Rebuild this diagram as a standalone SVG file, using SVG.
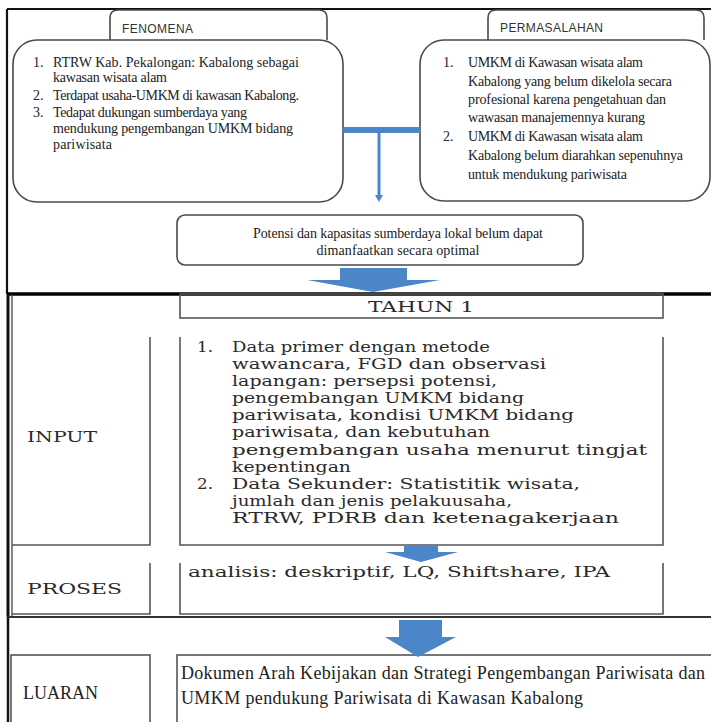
<svg xmlns="http://www.w3.org/2000/svg" width="711" height="722" viewBox="0 0 711 722">
<style>
.frame{fill:none;stroke:#111;stroke-width:2.2}
.box{fill:#fff;stroke:#4a4a4a;stroke-width:1.6}
.cell{fill:none;stroke:#555;stroke-width:1.6}
.tab{font-family:"Liberation Sans",Arial,sans-serif;font-size:12px;fill:#333}
.t1{font-family:"Liberation Serif","Times New Roman",serif;font-size:14px;fill:#222}
.t2{font-family:"DejaVu Serif",serif;font-size:14px;fill:#2a2a2a}
.t3{font-family:"Liberation Serif","Times New Roman",serif;font-size:18px;fill:#222}
.arrow{fill:#4a86c8}
</style>
<rect width="711" height="722" fill="#fff"/>
<g id="frame">
<path class="frame" d="M7,9 H711 M7,9 V294"/>
<path d="M7,294 H711" stroke="#000" stroke-width="3.5" fill="none"/>
<path d="M8,294 V617" stroke="#111" stroke-width="3" fill="none"/>
<path d="M12,294 V617" stroke="#333" stroke-width="1.2" fill="none"/>
<path d="M7,617 H711" stroke="#333" stroke-width="2" fill="none"/>
<path d="M8,617 V722" stroke="#111" stroke-width="2.5" fill="none"/>
</g>
<g id="fenomena">
<path class="box" d="M110,40 V18 Q110,10 118,10 H319 Q327,10 327,18 V40"/>
<rect class="box" x="13" y="40" width="330" height="162" rx="24"/>
<text class="tab" x="122" y="33" textLength="71">FENOMENA</text>
<text class="t1" x="33" y="67">1.</text>
<text class="t1" x="53" y="67" textLength="246">RTRW Kab. Pekalongan: Kabalong sebagai</text>
<text class="t1" x="53" y="82" textLength="114">kawasan wisata alam</text>
<text class="t1" x="33" y="100">2.</text>
<text class="t1" x="53" y="100" textLength="246">Terdapat  usaha-UMKM  di kawasan Kabalong.</text>
<text class="t1" x="33" y="117">3.</text>
<text class="t1" x="53" y="117" textLength="194">Tedapat dukungan sumberdaya yang</text>
<text class="t1" x="53" y="133" textLength="240">mendukung pengembangan UMKM bidang</text>
<text class="t1" x="53" y="149" textLength="59">pariwisata</text>
</g>
<g id="permasalahan">
<path class="box" d="M488,40 V18 Q488,10 496,10 H696 Q704,10 704,18 V40"/>
<rect class="box" x="420" y="40" width="290" height="161" rx="24"/>
<text class="tab" x="500" y="32" textLength="103">PERMASALAHAN</text>
<text class="t1" x="443" y="67">1.</text>
<text class="t1" x="468" y="67" textLength="175">UMKM di Kawasan wisata alam</text>
<text class="t1" x="468" y="86" textLength="204">Kabalong yang belum dikelola secara</text>
<text class="t1" x="468" y="104" textLength="198">profesional karena pengetahuan dan</text>
<text class="t1" x="468" y="122" textLength="177">wawasan manajemennya kurang</text>
<text class="t1" x="443" y="141">2.</text>
<text class="t1" x="468" y="141" textLength="175">UMKM di Kawasan wisata alam</text>
<text class="t1" x="468" y="160" textLength="215">Kabalong belum diarahkan sepenuhnya</text>
<text class="t1" x="468" y="179" textLength="159">untuk mendukung pariwisata</text>
</g>
<g id="potensi">
<rect class="box" x="177" y="215" width="406" height="50" rx="8"/>
<text class="t1" x="398" y="238" text-anchor="middle" textLength="290">Potensi dan kapasitas sumberdaya lokal belum dapat</text>
<text class="t1" x="398" y="255" text-anchor="middle" textLength="163">dimanfaatkan secara optimal</text>
</g>
<g id="tahun1">
<rect class="cell" x="180" y="294" width="483" height="24"/>
<text class="t2" x="421" y="312" text-anchor="middle" textLength="106" lengthAdjust="spacingAndGlyphs">TAHUN 1</text>
</g>
<g id="input-label">
<path class="cell" d="M150,337 V545 H12"/>
<text class="t2" x="27" y="442" textLength="70" lengthAdjust="spacingAndGlyphs">INPUT</text>
</g>
<g id="input-content">
<path class="cell" d="M180,337 V545 H663 V337"/>
<text class="t2" x="197" y="352" textLength="16" lengthAdjust="spacingAndGlyphs">1.</text>
<text class="t2" x="232" y="352" textLength="258" lengthAdjust="spacingAndGlyphs">Data primer dengan metode</text>
<text class="t2" x="232" y="369" textLength="314" lengthAdjust="spacingAndGlyphs">wawancara, FGD dan observasi</text>
<text class="t2" x="232" y="386" textLength="265" lengthAdjust="spacingAndGlyphs">lapangan: persepsi potensi,</text>
<text class="t2" x="232" y="403" textLength="292" lengthAdjust="spacingAndGlyphs">pengembangan UMKM bidang</text>
<text class="t2" x="232" y="420" textLength="342" lengthAdjust="spacingAndGlyphs">pariwisata, kondisi UMKM bidang</text>
<text class="t2" x="232" y="437" textLength="258" lengthAdjust="spacingAndGlyphs">pariwisata, dan kebutuhan</text>
<text class="t2" x="232" y="455" textLength="415" lengthAdjust="spacingAndGlyphs">pengembangan usaha menurut tingjat</text>
<text class="t2" x="232" y="472" textLength="119" lengthAdjust="spacingAndGlyphs">kepentingan</text>
<text class="t2" x="197" y="489" textLength="16" lengthAdjust="spacingAndGlyphs">2.</text>
<text class="t2" x="232" y="489" textLength="348" lengthAdjust="spacingAndGlyphs">Data Sekunder: Statistitik wisata,</text>
<text class="t2" x="232" y="506" textLength="280" lengthAdjust="spacingAndGlyphs">jumlah dan jenis pelakuusaha,</text>
<text class="t2" x="232" y="523" textLength="387" lengthAdjust="spacingAndGlyphs">RTRW, PDRB dan ketenagakerjaan</text>
</g>
<g id="proses-label">
<path class="cell" d="M150,563 V614 H12"/>
<text class="t2" x="27" y="594" textLength="95" lengthAdjust="spacingAndGlyphs">PROSES</text>
</g>
<g id="proses-content">
<path class="cell" d="M180,563 V614 H663 V563"/>
<text class="t2" x="188" y="577" textLength="422" lengthAdjust="spacingAndGlyphs">analisis: deskriptif, LQ, Shiftshare, IPA</text>
</g>
<g id="luaran-label">
<rect class="cell" x="11" y="655" width="139" height="80"/>
<text class="t3" x="23" y="699" textLength="75">LUARAN</text>
</g>
<g id="luaran-content">
<rect class="cell" x="177" y="655" width="560" height="80"/>
<text class="t3" x="181" y="679" textLength="524">Dokumen Arah Kebijakan dan Strategi Pengembangan Pariwisata dan</text>
<text class="t3" x="181" y="704" textLength="402">UMKM pendukung Pariwisata di Kawasan Kabalong</text>
</g>
<g id="connectors">
<rect class="arrow" x="343" y="127" width="77" height="6"/>
<rect class="arrow" x="377.5" y="133" width="3" height="63"/>
<polygon class="arrow" points="375,195 383,195 379,202"/>
<polygon class="arrow" points="340,268 407,268 407,280 440,280 373,292 307,280 340,280"/>
<polygon class="arrow" points="404,545 438,545 438,552 458,552 421,562 385,552 404,552"/>
<polygon class="arrow" points="399,620 442,620 442,637 456,637 418,657 385,637 399,637"/>
</g>
</svg>
